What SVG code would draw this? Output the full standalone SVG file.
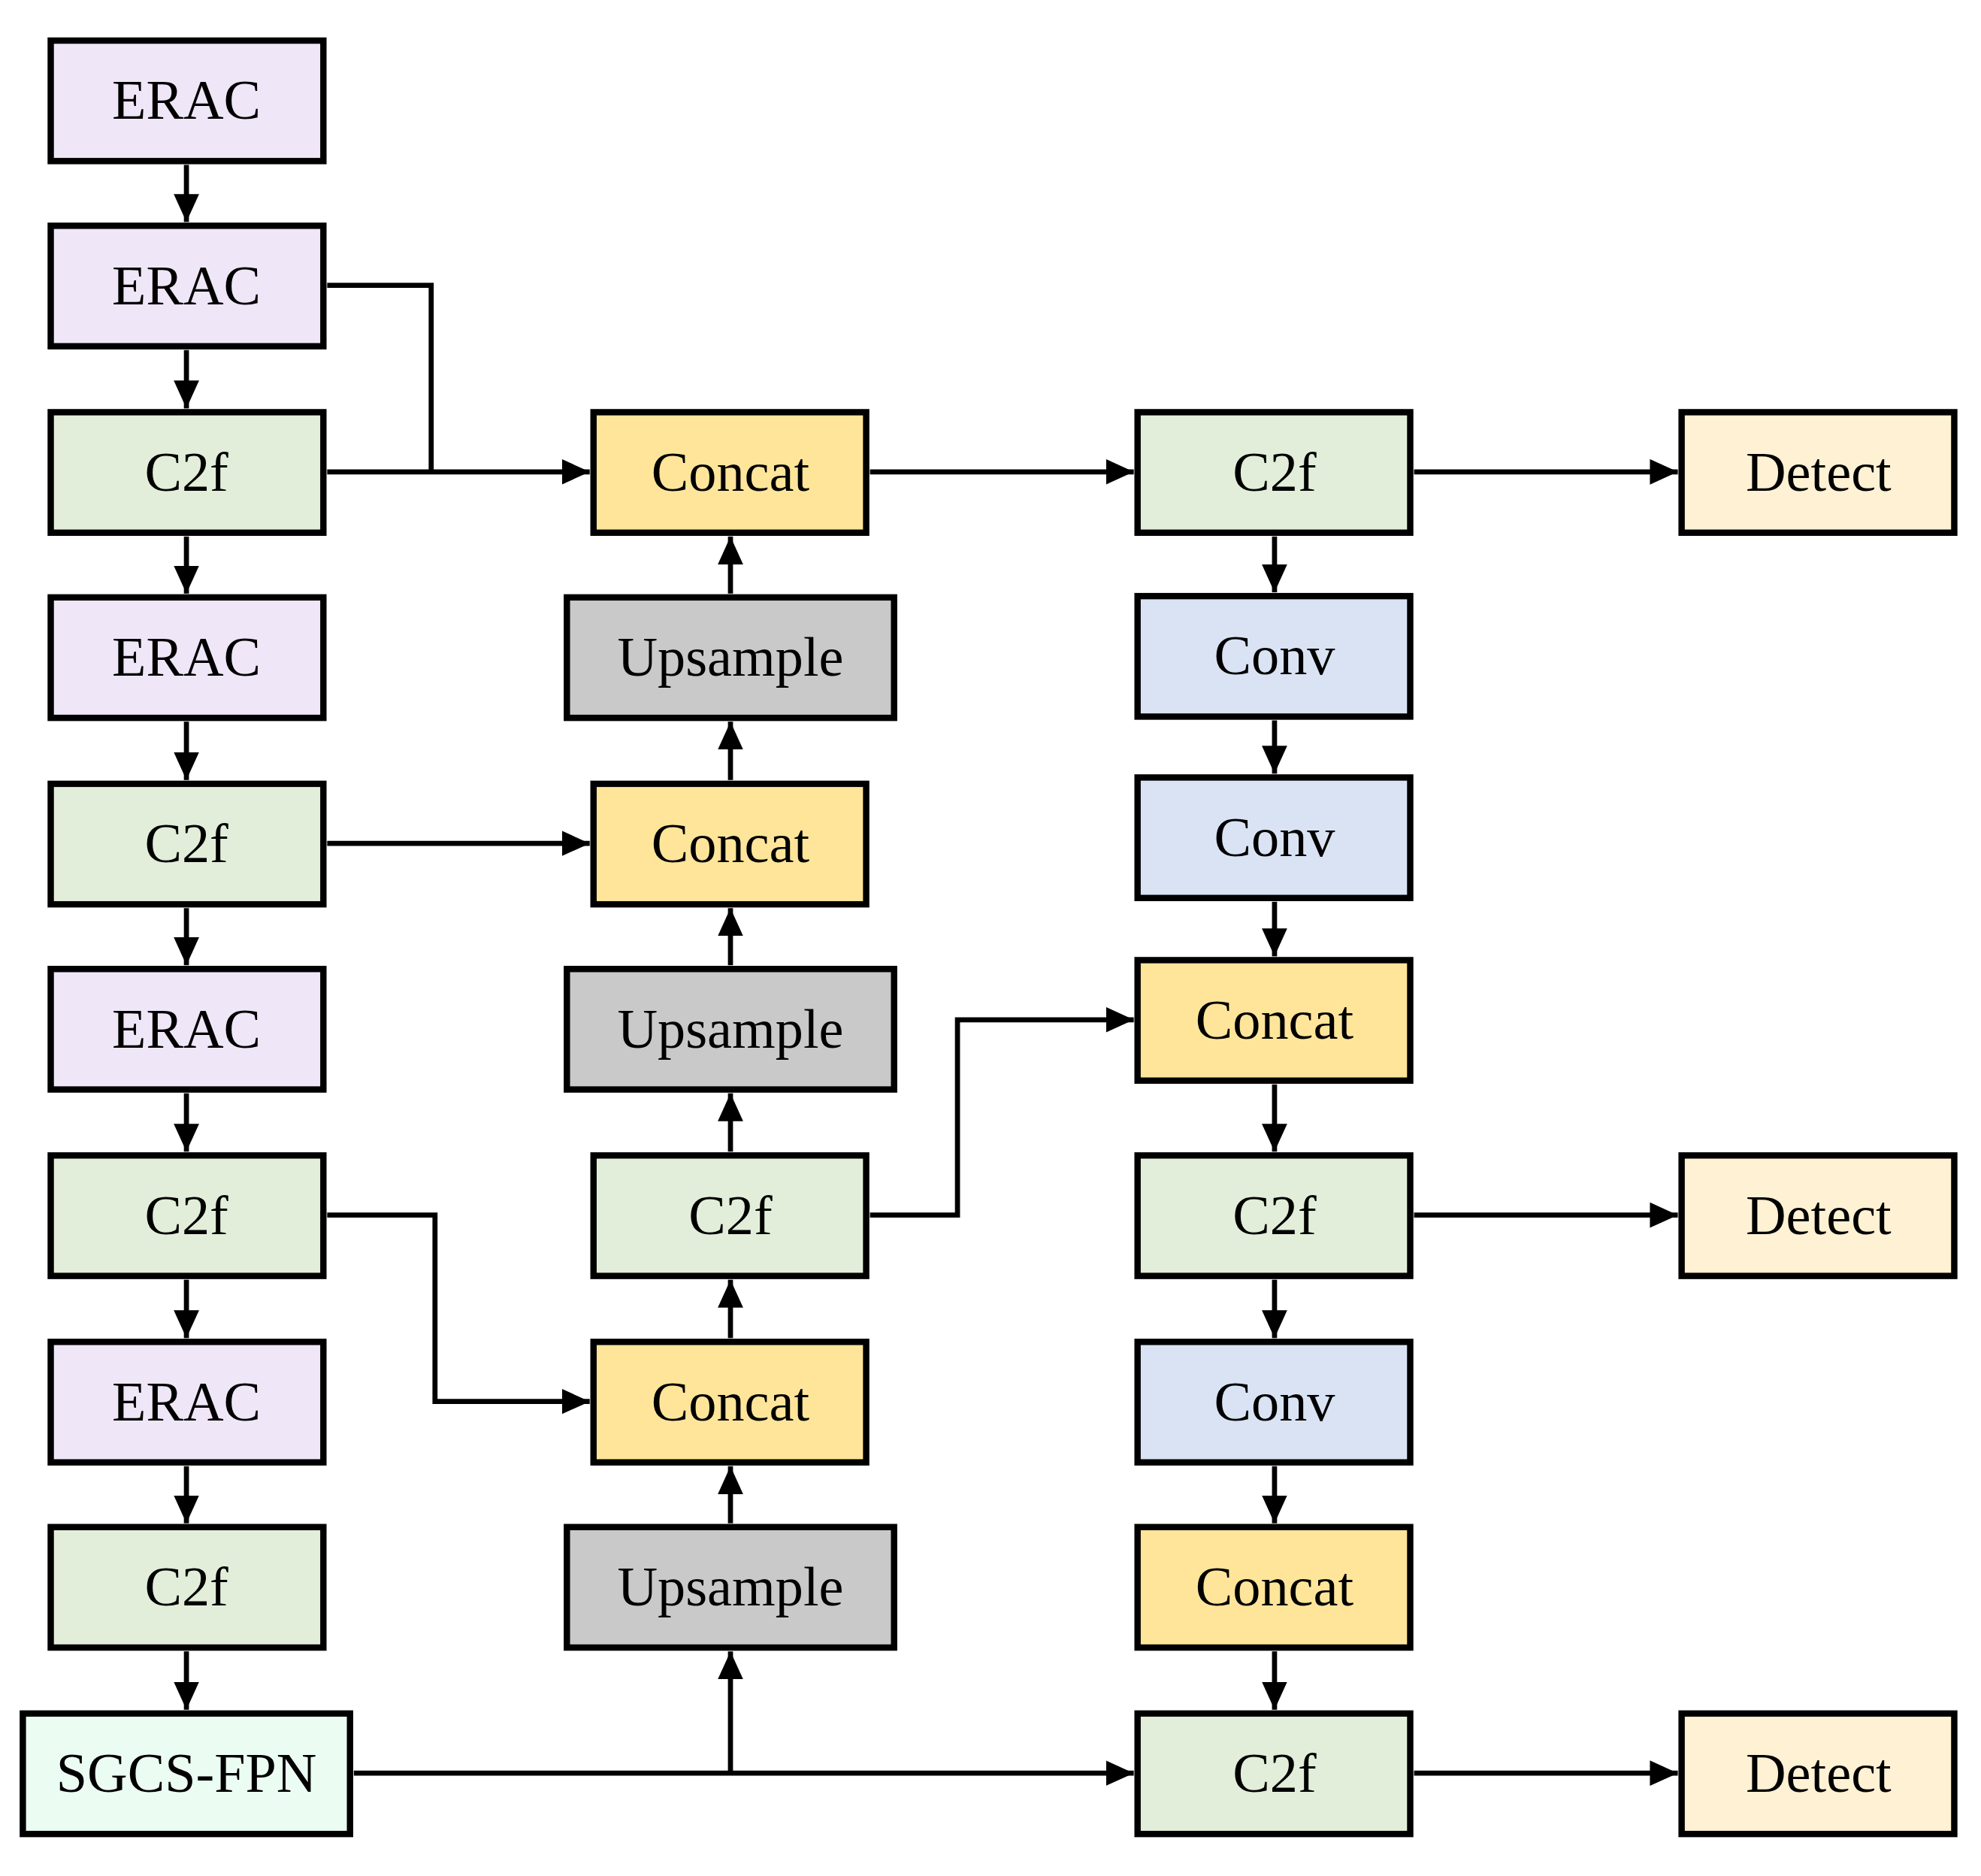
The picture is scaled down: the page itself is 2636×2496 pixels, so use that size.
<svg xmlns="http://www.w3.org/2000/svg" width="2636" height="2496" viewBox="0 0 2636 2496">
<style>
.b{stroke:#000;stroke-width:5}
.t{font-family:"Liberation Serif","Times New Roman",serif;font-size:44px;text-anchor:middle;dominant-baseline:central;fill:#000}
.e{fill:#EFE6F7}.c{fill:#E2EED9}.k{fill:#FFE59A}.u{fill:#C9C9C9}.v{fill:#DAE3F3}.d{fill:#FFF1D3}.s{fill:#EBFDF3}
.l{fill:none;stroke:#000;stroke-width:4;marker-end:url(#a)}
.n{fill:none;stroke:#000;stroke-width:4}
</style>
<defs><marker id="a" markerUnits="userSpaceOnUse" markerWidth="22" markerHeight="20" refX="22" refY="10" orient="auto"><path d="M0,0L22,10L0,20Z" fill="#000"/></marker></defs>
<rect width="2636" height="2496" fill="#fff"/>
<g transform="scale(1.6875)">
<g id="n1"><rect class="b e" x="40" y="32" width="215" height="95"/><text class="t" x="147" y="79">ERAC</text></g>
<g id="n2"><rect class="b e" x="40" y="178" width="215" height="95"/><text class="t" x="147" y="225">ERAC</text></g>
<g id="n3"><rect class="b c" x="40" y="325" width="215" height="95"/><text class="t" x="147" y="372">C2f</text></g>
<g id="n4"><rect class="b e" x="40" y="471" width="215" height="95"/><text class="t" x="147" y="518">ERAC</text></g>
<g id="n5"><rect class="b c" x="40" y="618" width="215" height="95"/><text class="t" x="147" y="665">C2f</text></g>
<g id="n6"><rect class="b e" x="40" y="764" width="215" height="95"/><text class="t" x="147" y="811">ERAC</text></g>
<g id="n7"><rect class="b c" x="40" y="911" width="215" height="95"/><text class="t" x="147" y="958">C2f</text></g>
<g id="n8"><rect class="b e" x="40" y="1058" width="215" height="95"/><text class="t" x="147" y="1105">ERAC</text></g>
<g id="n9"><rect class="b c" x="40" y="1204" width="215" height="95"/><text class="t" x="147" y="1251">C2f</text></g>
<g id="n10"><rect class="b s" x="18" y="1351" width="258" height="95"/><text class="t" x="147" y="1398">SGCS-FPN</text></g>
<g id="m1"><rect class="b k" x="468" y="325" width="215" height="95"/><text class="t" x="576" y="372">Concat</text></g>
<g id="m2"><rect class="b u" x="447" y="471" width="258" height="95"/><text class="t" x="576" y="518">Upsample</text></g>
<g id="m3"><rect class="b k" x="468" y="618" width="215" height="95"/><text class="t" x="576" y="665">Concat</text></g>
<g id="m4"><rect class="b u" x="447" y="764" width="258" height="95"/><text class="t" x="576" y="811">Upsample</text></g>
<g id="m5"><rect class="b c" x="468" y="911" width="215" height="95"/><text class="t" x="576" y="958">C2f</text></g>
<g id="m6"><rect class="b k" x="468" y="1058" width="215" height="95"/><text class="t" x="576" y="1105">Concat</text></g>
<g id="m7"><rect class="b u" x="447" y="1204" width="258" height="95"/><text class="t" x="576" y="1251">Upsample</text></g>
<g id="r1"><rect class="b c" x="897" y="325" width="215" height="95"/><text class="t" x="1005" y="372">C2f</text></g>
<g id="r2"><rect class="b v" x="897" y="470" width="215" height="95"/><text class="t" x="1005" y="517">Conv</text></g>
<g id="r3"><rect class="b v" x="897" y="613" width="215" height="95"/><text class="t" x="1005" y="660">Conv</text></g>
<g id="r4"><rect class="b k" x="897" y="757" width="215" height="95"/><text class="t" x="1005" y="804">Concat</text></g>
<g id="r5"><rect class="b c" x="897" y="911" width="215" height="95"/><text class="t" x="1005" y="958">C2f</text></g>
<g id="r6"><rect class="b v" x="897" y="1058" width="215" height="95"/><text class="t" x="1005" y="1105">Conv</text></g>
<g id="r7"><rect class="b k" x="897" y="1204" width="215" height="95"/><text class="t" x="1005" y="1251">Concat</text></g>
<g id="r8"><rect class="b c" x="897" y="1351" width="215" height="95"/><text class="t" x="1005" y="1398">C2f</text></g>
<g id="d1"><rect class="b d" x="1326" y="325" width="215" height="95"/><text class="t" x="1434" y="372">Detect</text></g>
<g id="d2"><rect class="b d" x="1326" y="911" width="215" height="95"/><text class="t" x="1434" y="958">Detect</text></g>
<g id="d3"><rect class="b d" x="1326" y="1351" width="215" height="95"/><text class="t" x="1434" y="1398">Detect</text></g>
<g id="connectors">
<path class="l" d="M147,130V175"/><path class="l" d="M147,276V322"/><path class="l" d="M147,423V468"/><path class="l" d="M147,569V615"/><path class="l" d="M147,716V761"/><path class="l" d="M147,862V908"/><path class="l" d="M147,1009V1055"/><path class="l" d="M147,1156V1201"/><path class="l" d="M147,1302V1348"/>
<path class="n" d="M258,225H340V372"/>
<path class="l" d="M258,372H465"/>
<path class="l" d="M576,468V423"/><path class="l" d="M576,615V569"/><path class="l" d="M576,761V716"/><path class="l" d="M576,908V862"/><path class="l" d="M576,1055V1009"/><path class="l" d="M576,1201V1156"/>
<path class="l" d="M258,665H465"/>
<path class="l" d="M258,958H343V1105H465"/>
<path class="l" d="M686,958H755V804H894"/>
<path class="l" d="M279,1398H894"/>
<path class="l" d="M576,1398V1302"/>
<path class="l" d="M686,372H894"/>
<path class="l" d="M1005,423V467"/><path class="l" d="M1005,568V610"/><path class="l" d="M1005,711V754"/><path class="l" d="M1005,855V908"/><path class="l" d="M1005,1009V1055"/><path class="l" d="M1005,1156V1201"/><path class="l" d="M1005,1302V1348"/>
<path class="l" d="M1115,372H1323"/><path class="l" d="M1115,958H1323"/><path class="l" d="M1115,1398H1323"/>
</g>
</g>
</svg>
